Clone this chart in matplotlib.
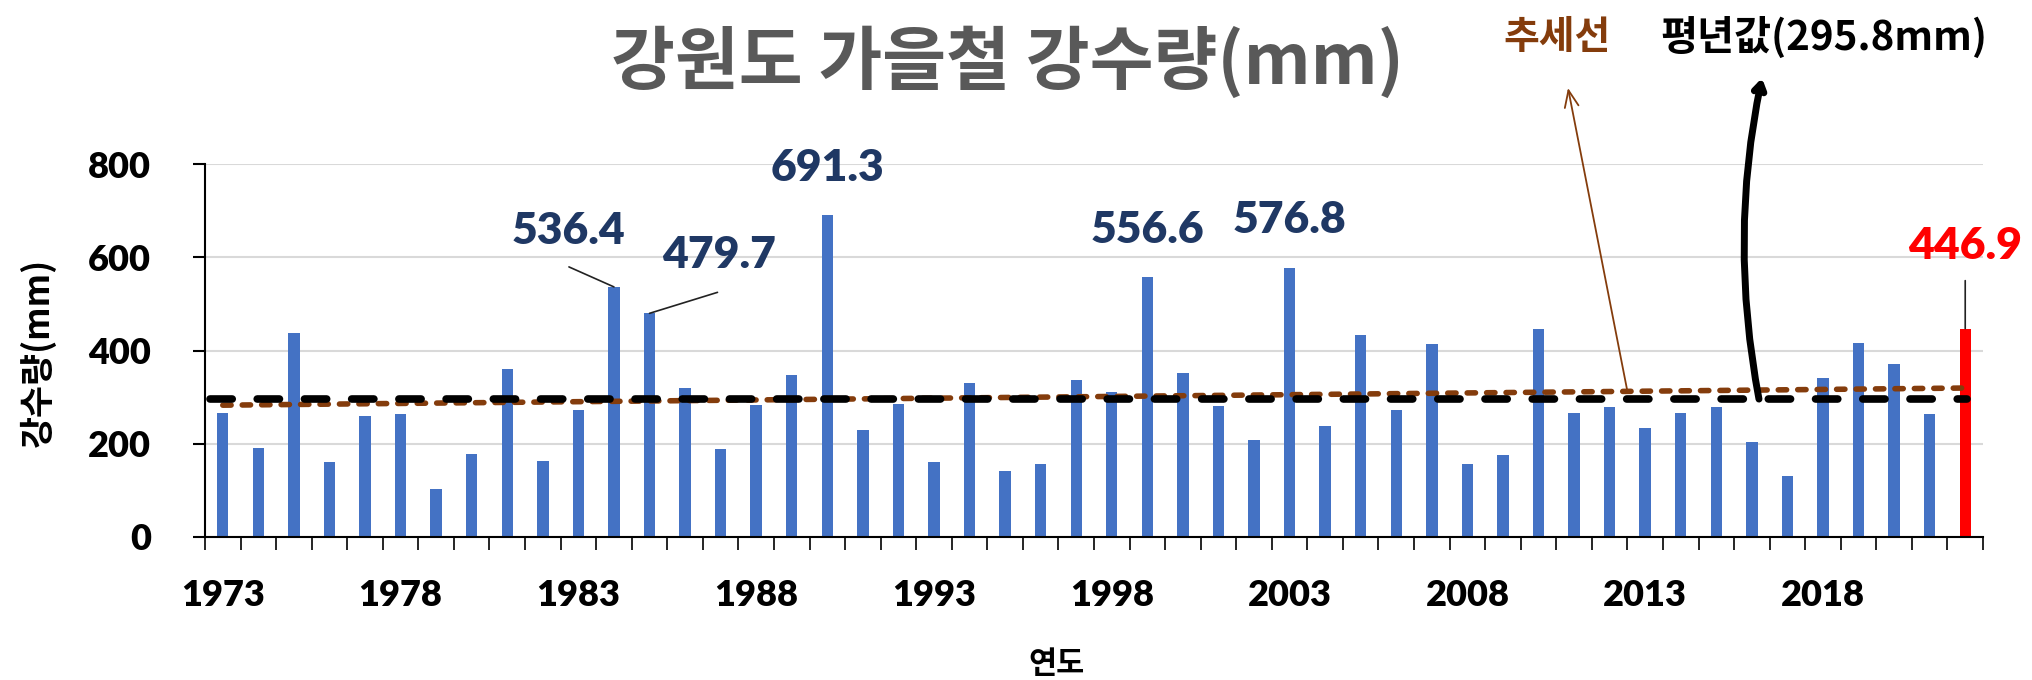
import numpy as np
import matplotlib.pyplot as plt

plt.rcParams['font.family'] = ['Noto Sans CJK KR', 'DejaVu Sans']
plt.rcParams['lines.scale_dashes'] = False

# 강원도 가을철 강수량 (mm), 1973-2022
years = list(range(1973, 2023))
rain = [266, 190, 438, 161, 259, 263, 103, 177, 361, 163,
        273, 536.4, 479.7, 319, 189, 283, 348, 691.3, 230, 286,
        161, 330, 142, 157, 337, 311, 556.6, 351, 281, 208,
        576.8, 238, 434, 272, 415, 156, 175, 447, 265, 279,
        233, 265, 278, 203, 131, 340, 416, 371, 263, 446.9]
normal = 295.8
tick_years = list(range(1973, 2019, 5))
label_years = [1984, 1985, 1990, 1999, 2003]

W, H = 2032, 680
fig = plt.figure(figsize=(W / 100, H / 100), dpi=100)
ax = fig.add_axes([205 / W, 1 - 537 / H, (1983 - 205) / W, (537 - 164) / H])

x = np.arange(len(years))
colors = ['#4472C4'] * (len(years) - 1) + ['#FF0000']
ax.bar(x, rain, width=0.32, color=colors, zorder=2)

# 추세선
coef = np.polyfit(x, rain, 1)
trend = np.polyval(coef, x)
ax.plot(x, trend, color='#843C0C', lw=4, dashes=(6, 8),
        dash_capstyle='round', zorder=3)

# 평년값
ax.plot([x[0] - 0.35, x[-1] + 0.05], [normal, normal], color='black', lw=5.5,
        dashes=(16, 18), dash_capstyle='round', zorder=4)

ax.set_xlim(-0.5, len(years) - 0.5)
ax.set_ylim(0, 800)
ax.set_yticks([0, 200, 400, 600, 800])
ax.yaxis.grid(True, color='#D9D9D9', lw=1.5)
ax.set_axisbelow(True)
for s in ['top', 'right']:
    ax.spines[s].set_visible(False)
for s in ['left', 'bottom']:
    ax.spines[s].set_linewidth(1.5)

ax.set_xticks([years.index(y) for y in tick_years])
ax.set_xticklabels([str(y) for y in tick_years])
ax.set_xticks(np.arange(-0.5, len(years)), minor=True)
ax.tick_params(axis='x', which='major', length=0, pad=30)
ax.tick_params(axis='x', which='minor', length=9, width=1.2, direction='out')
ax.tick_params(axis='y', length=9, width=1.5, pad=30)
for lab in ax.get_xticklabels() + ax.get_yticklabels():
    lab.set_fontfamily('Lato')
    lab.set_fontweight('heavy')
    lab.set_fontsize(26)

# 값 표시
px = 0.72
offsets = {1984: (-45, 56), 1985: (70, 58), 1990: (0, 47), 1999: (0, 47), 2003: (0, 48)}
leaders = {1984: (-45, 20), 1985: (68, 21)}
for yr in label_years:
    i = years.index(yr)
    dx, dy = offsets[yr]
    ax.annotate(f'{rain[i]:.1f}', xy=(i, rain[i]), xytext=(dx * px, dy * px),
                textcoords='offset points', ha='center', va='center',
                fontsize=32, fontweight='heavy', color='#1F3864', family='Lato')
    if yr in leaders:
        lx, ly = leaders[yr]
        ax.annotate('', xy=(i, rain[i]), xytext=(lx * px, ly * px),
                    textcoords='offset points',
                    arrowprops=dict(arrowstyle='-', color='#222222', lw=1.2,
                                    shrinkA=0, shrinkB=0))

i = len(years) - 1
ax.annotate(f'{rain[i]:.1f}', xy=(i, rain[i]), xytext=(0, 83 * px),
            textcoords='offset points', ha='center', va='center',
            fontsize=32, fontweight='heavy', color='#FF0000', family='Lato')
ax.annotate('', xy=(i, rain[i]), xytext=(0, 48 * px), textcoords='offset points',
            arrowprops=dict(arrowstyle='-', color='#222222', lw=1.2,
                            shrinkA=0, shrinkB=0))

# 제목과 범례 글자
fig.text(1007 / W, 1 - 63 / H, '강원도 가을철 강수량(mm)', ha='center', va='center',
         fontsize=50, fontweight='bold', color='#595959')
fig.text(1557 / W, 1 - 38 / H, '추세선', ha='center', va='center',
         fontsize=28, fontweight='bold', color='#843C0C')
fig.text(1824 / W, 1 - 38 / H, '평년값(295.8mm)', ha='center', va='center',
         fontsize=29, fontweight='bold', color='black')
fig.text(38 / W, 1 - 352 / H, '강수량(mm)', ha='center', va='center', rotation=90,
         fontsize=25, fontweight='bold', color='black')
fig.text(1056 / W, 1 - 664 / H, '연도', ha='center', va='center',
         fontsize=22, fontweight='bold', color='black')

# 화살표
xt = 39.5
ax.annotate('', xy=(1568, H - 88), xycoords='figure pixels',
            xytext=(xt, np.polyval(coef, xt)), textcoords='data',
            arrowprops=dict(arrowstyle='->,head_length=1.2,head_width=0.5',
                            color='#843C0C', lw=1.3, shrinkA=0, shrinkB=0))
xm = 43.2
ax.annotate('', xy=(1762, H - 78), xycoords='figure pixels',
            xytext=(xm, normal), textcoords='data',
            arrowprops=dict(arrowstyle='->,head_length=0.55,head_width=0.35',
                            connectionstyle='arc3,rad=-0.1',
                            color='black', lw=5, shrinkA=0, shrinkB=0))

fig.savefig('out.png', dpi=100)
